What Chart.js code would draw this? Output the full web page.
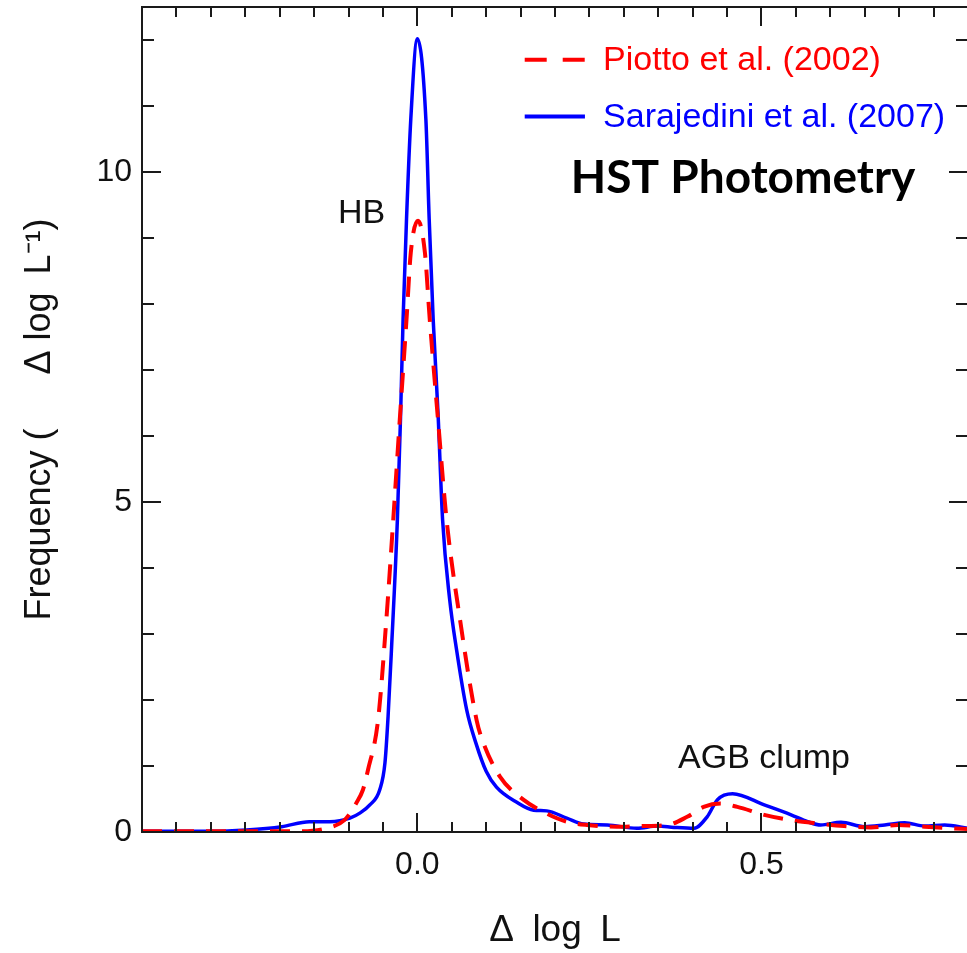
<!DOCTYPE html>
<html><head><meta charset="utf-8">
<script src="https://cdn.jsdelivr.net/npm/chart.js@4/dist/chart.umd.min.js"></script>
<style>html,body{margin:0;padding:0;overflow:hidden;background:#fff}</style>
</head><body>
<canvas id="c" width="968" height="953"></canvas>
<script>
// ---- data ----
const seriesNames = ['Piotto et al. (2002)', 'Sarajedini et al. (2007)'];
const piottoX = [-0.40,-0.30,-0.20,-0.171,-0.132,-0.106,-0.0886,-0.079,-0.0717,-0.057,-0.045,-0.035,-0.0255,-0.0157,-0.0095,0.001,0.011,0.018,0.030,0.0425,0.062,0.086,0.096,0.120,0.154,0.188,0.217,0.2465,0.290,0.324,0.363,0.392,0.416,0.4405,0.465,0.504,0.543,0.5815,0.620,0.659,0.698,0.737,0.776,0.80];
const piottoY = [0.01,0.01,0.01,0.01,0.056,0.18,0.44,0.64,0.94,1.70,3.22,4.73,6.25,7.77,8.78,9.26,8.78,7.77,6.25,4.73,3.22,1.70,1.35,0.84,0.49,0.28,0.156,0.106,0.08,0.09,0.106,0.23,0.38,0.43,0.38,0.26,0.18,0.13,0.09,0.07,0.106,0.08,0.056,0.045];
const sarajX = [-0.40,-0.30,-0.248,-0.197,-0.157,-0.127,-0.098,-0.083,-0.069,-0.0546,-0.047,-0.0425,-0.0376,-0.029,-0.0245,-0.0207,-0.0157,-0.0095,0.0,0.0124,0.0172,0.023,0.030,0.0367,0.047,0.057,0.0717,0.085,0.100,0.115,0.1445,0.169,0.188,0.217,0.2415,0.276,0.319,0.3485,0.373,0.402,0.421,0.436,0.458,0.504,0.543,0.567,0.586,0.6155,0.6495,0.679,0.708,0.737,0.766,0.80];
const sarajY = [0.01,0.01,0.03,0.08,0.156,0.156,0.21,0.29,0.41,0.64,1.05,1.75,2.76,4.73,6.25,7.77,9.29,10.80,12.02,10.80,9.29,7.77,6.36,4.73,3.52,2.76,1.85,1.35,0.92,0.68,0.45,0.33,0.32,0.21,0.12,0.106,0.056,0.09,0.07,0.056,0.23,0.49,0.58,0.41,0.26,0.156,0.106,0.147,0.08,0.106,0.14,0.09,0.106,0.056];
const xTickValues = [0, 0.5];
const xTickLabels = ['0.0', '0.5'];
const yTickValues = [0, 5, 10];
const yTickLabels = ['0', '5', '10'];
const xTitle = 'Δ\u2002log\u2002L';
const yTitle = 'Frequency (\u2003\u2002Δ log\u2002L⁻¹)';
const annotationTexts = ['HB', 'AGB clump', 'HST Photometry'];

// ---- rendering ----
const FONT = '"Liberation Sans", Arial, sans-serif';
const RED = '#ff0000', BLUE = '#0000ff', INK = '#111111';

const framePlugin = {
  id: 'frame',
  afterDatasetsDraw(chart) {
    const {ctx, chartArea: a, scales: {x, y}} = chart;
    ctx.save();
    ctx.strokeStyle = '#1a1a1a';
    ctx.lineWidth = 2;
    ctx.setLineDash([]);
    ctx.strokeRect(a.left, a.top, a.right - a.left, a.bottom - a.top);
    const seg = (x1, y1, x2, y2) => { ctx.beginPath(); ctx.moveTo(x1, y1); ctx.lineTo(x2, y2); ctx.stroke(); };
    for (let i = 0; i <= 24; i++) {
      const v = x.min + i * 0.05;
      const major = Math.abs(v / 0.5 - Math.round(v / 0.5)) < 1e-6;
      const L = major ? 19 : 10;
      const px = Math.round(x.getPixelForValue(v));
      seg(px, a.bottom, px, a.bottom - L);
      seg(px, a.top, px, a.top + L);
    }
    for (let v = 0; v <= 12; v++) {
      const major = v % 5 === 0;
      const L = major ? 19 : 12;
      const py = Math.round(y.getPixelForValue(v));
      seg(a.left, py, a.left + L, py);
      seg(a.right, py, a.right - L, py);
    }
    ctx.restore();
  },
  afterDraw(chart) {
    const {ctx, scales: {x, y}} = chart;
    const ds = chart.data.datasets;
    ctx.save();
    // legend
    const lx1 = x.getPixelForValue(0.156), lx2 = x.getPixelForValue(0.2435), tx = x.getPixelForValue(0.2698);
    const rows = [y.getPixelForValue(11.70), y.getPixelForValue(10.84)];
    ctx.lineCap = 'butt';
    ds.forEach((d, i) => {
      ctx.strokeStyle = d.borderColor;
      ctx.lineWidth = 4;
      ctx.setLineDash(d.borderDash ? [22, 16] : []);
      ctx.beginPath(); ctx.moveTo(lx1, rows[i]); ctx.lineTo(lx2, rows[i]); ctx.stroke();
      ctx.setLineDash([]);
      ctx.fillStyle = d.borderColor;
      ctx.font = '34px ' + FONT;
      ctx.textAlign = 'left';
      ctx.textBaseline = 'middle';
      ctx.fillText(d.label, tx, rows[i] + 1);
    });
    // annotations
    ctx.fillStyle = INK;
    ctx.textAlign = 'center';
    ctx.textBaseline = 'alphabetic';
    ctx.font = '34px ' + FONT;
    ctx.fillText(annotationTexts[0], x.getPixelForValue(-0.081), y.getPixelForValue(9.23));
    ctx.fillText(annotationTexts[1], x.getPixelForValue(0.5037), y.getPixelForValue(0.97));
    ctx.fillStyle = '#000';
    ctx.font = 'bold 46px Lato, "Open Sans", sans-serif';
    ctx.fillText(annotationTexts[2], x.getPixelForValue(0.4733), y.getPixelForValue(9.68));
    ctx.restore();
  }
};

new Chart(document.getElementById('c'), {
  type: 'line',
  data: {
    datasets: [
      { label: seriesNames[0], data: piottoX.map((v, i) => ({x: v, y: piottoY[i]})),
        borderColor: RED, borderWidth: 4, borderDash: [20, 12], pointRadius: 0,
        cubicInterpolationMode: 'monotone', fill: false },
      { label: seriesNames[1], data: sarajX.map((v, i) => ({x: v, y: sarajY[i]})),
        borderColor: BLUE, borderWidth: 3.5, pointRadius: 0,
        cubicInterpolationMode: 'monotone', fill: false }
    ]
  },
  options: {
    responsive: false,
    animation: false,
    devicePixelRatio: 1,
    layout: { padding: { top: 7, left: 0, right: 0, bottom: 0 } },
    plugins: { legend: { display: false }, tooltip: { enabled: false } },
    scales: {
      x: {
        type: 'linear', min: -0.4, max: 0.8,
        afterBuildTicks: s => { s.ticks = xTickValues.map(v => ({ value: v })); },
        afterFit: s => { s.height = 121; s.paddingLeft = 0; s.paddingRight = 0; },
        ticks: { callback: v => { const k = xTickValues.indexOf(v); return k >= 0 ? xTickLabels[k] : ''; },
                 font: { family: FONT, size: 32 }, color: INK, padding: 14, maxRotation: 0, autoSkip: false },
        grid: { display: false, drawTicks: false },
        border: { display: false },
        title: { display: true, text: xTitle, color: INK, font: { family: FONT, size: 37 }, padding: { top: 0, bottom: 0 } }
      },
      y: {
        type: 'linear', min: 0, max: 12.5,
        afterBuildTicks: s => { s.ticks = yTickValues.map(v => ({ value: v })); },
        afterFit: s => { s.width = 142; s.paddingTop = 0; s.paddingBottom = 0; },
        ticks: { callback: v => { const k = yTickValues.indexOf(v); return k >= 0 ? yTickLabels[k] : ''; },
                 font: { family: FONT, size: 32 }, color: INK, padding: 10, autoSkip: false },
        grid: { display: false, drawTicks: false },
        border: { display: false },
        title: { display: true, text: yTitle, color: INK, font: { family: FONT, size: 36 }, padding: { top: 18, bottom: 0 } }
      }
    }
  },
  plugins: [framePlugin]
});
</script>
</body></html>
